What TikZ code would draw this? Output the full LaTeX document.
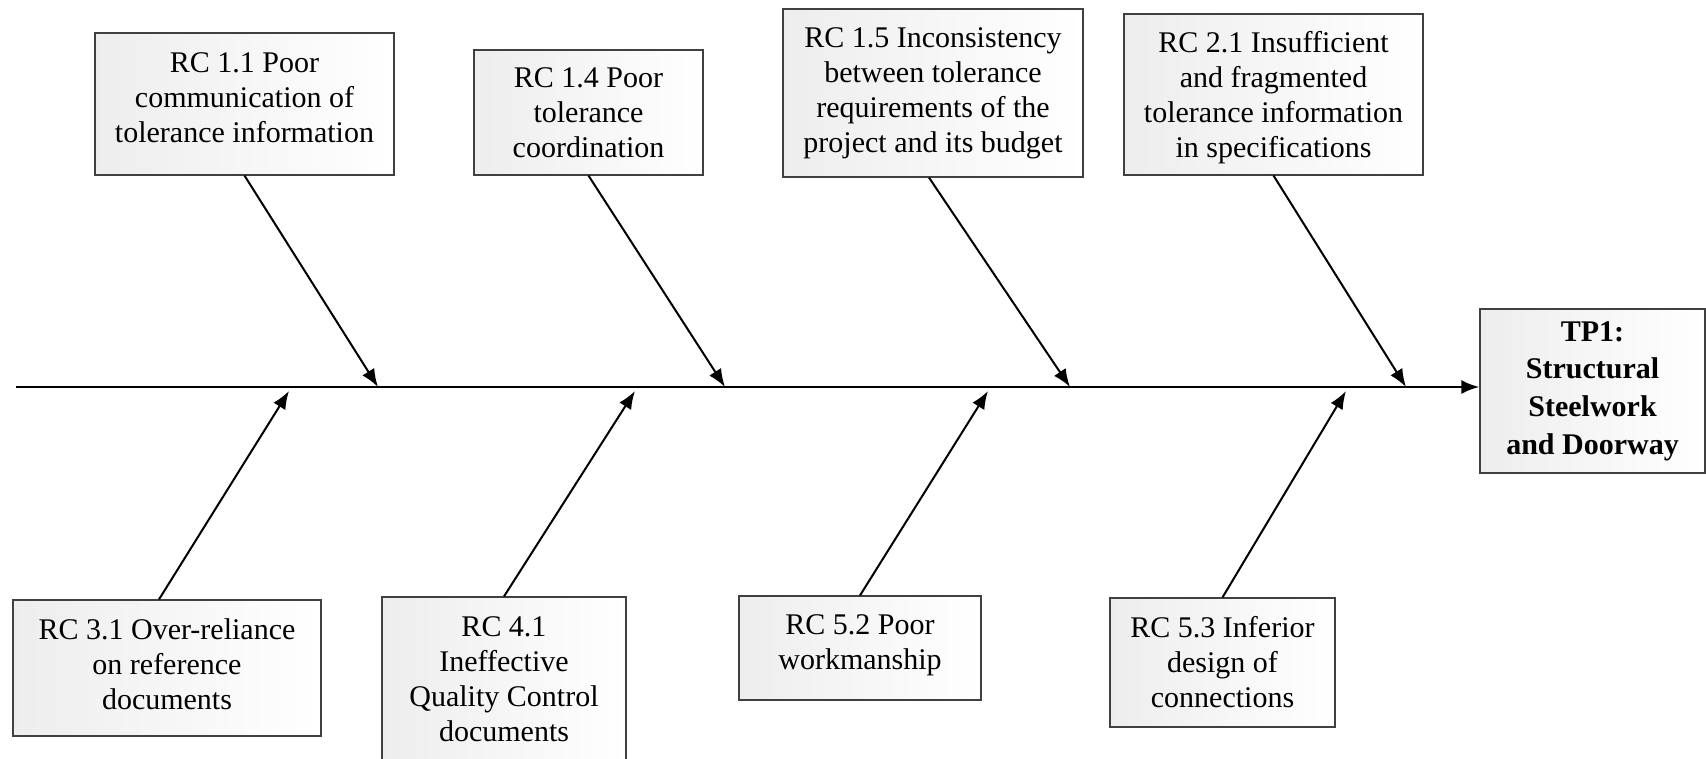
\documentclass[tikz,border=0pt]{standalone}
\usepackage{fontspec}
\setmainfont{Liberation Serif}
\usetikzlibrary{arrows.meta}
\newcommand\lowerlast[1]{\rule[-#1]{0pt}{0pt}}
\newcommand\raisefirst[1]{\rule{0pt}{#1}}
\begin{document}
\begin{tikzpicture}[x=0.5pt,y=-0.5pt,
  box/.style={draw=black!75, line width=0.6pt, left color=gray!14, right color=white,
    align=center, inner sep=2pt, font=\fontsize{15}{17.5}\selectfont},
  spine/.style={line width=1.3pt, -{Latex[length=9pt,width=7pt]}},
  bone/.style={line width=1pt, -{Latex[length=9pt,width=7pt]}}]
\path[use as bounding box] (0,0) rectangle (1706,759);
\clip (0,0) rectangle (1706,759);
\node[box, minimum width=149.5pt, minimum height=71pt] (b11) at (244.5,104) {RC 1.1 Poor\\communication of\\tolerance information\lowerlast{6.5pt}};
\node[box, minimum width=114.5pt, minimum height=62.5pt] (b14) at (588.5,112.5) {RC 1.4 Poor\\tolerance\\coordination};
\node[box, minimum width=150pt, minimum height=84pt] (b15) at (933,93) {RC 1.5 Inconsistency\\between tolerance\\requirements of the\\project and its budget};
\node[box, minimum width=149.5pt, minimum height=80.5pt] (b21) at (1273.5,94.5) {\raisefirst{13.6pt}RC 2.1 Insufficient\\and fragmented\\tolerance information\\in specifications};
\node[box, minimum width=154pt, minimum height=68pt] (b31) at (167,668) {RC 3.1 Over-reliance\\on reference\\documents\lowerlast{4.4pt}};
\node[box, minimum width=122pt, minimum height=82.5pt] (b41) at (504,679.5) {RC 4.1\\Ineffective\\Quality Control\\documents};
\node[box, minimum width=121pt, minimum height=52pt] (b52) at (860,648) {RC 5.2 Poor\\workmanship\lowerlast{6.2pt}};
\node[box, minimum width=112.5pt, minimum height=64.5pt] (b53) at (1222.5,662.5) {RC 5.3 Inferior\\design of\\connections};
\node[box, minimum width=112.5pt, minimum height=82pt, font=\fontsize{15}{18.8}\selectfont\bfseries] (tp) at (1592.5,391) {TP1:\\Structural\\Steelwork\\and Doorway};
\coordinate (s0) at (16,387);
\draw[spine] (s0) -- (s0 -| tp.west);
\coordinate (t11) at (378,387);
\coordinate (t14) at (725,387);
\coordinate (t15) at (1070,387);
\coordinate (t21) at (1406,387);
\coordinate (t31) at (289,391);
\coordinate (t41) at (635,391);
\coordinate (t52) at (988,391);
\coordinate (t53) at (1346,391);
\draw[bone] (b11.south) -- (t11);
\draw[bone] (b14.south) -- (t14);
\draw[bone] ([xshift=-2pt]b15.south) -- (t15);
\draw[bone] (b21.south) -- (t21);
\draw[bone] ([xshift=-4pt]b31.north) -- (t31);
\draw[bone] (b41.north) -- (t41);
\draw[bone] (b52.north) -- (t52);
\draw[bone] (b53.north) -- (t53);
\end{tikzpicture}
\end{document}
